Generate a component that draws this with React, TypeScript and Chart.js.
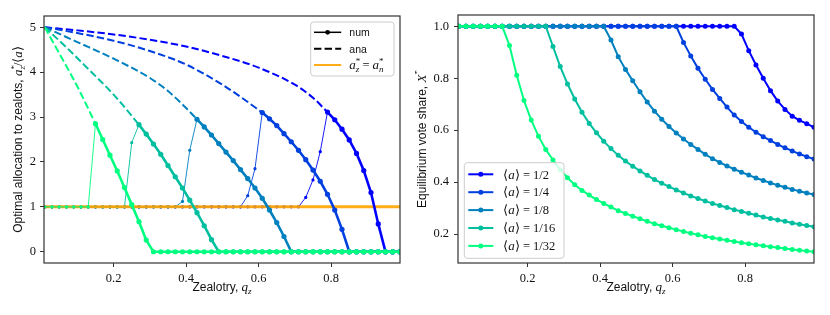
import { useEffect, useRef } from "react";
import { Chart, registerables } from "chart.js";
Chart.register(...registerables);

// ---------- data ----------
const Q = [0.01, 0.03, 0.05, 0.07, 0.09, 0.11, 0.13, 0.15, 0.17, 0.19, 0.21, 0.23, 0.25, 0.27, 0.29, 0.31, 0.33, 0.35, 0.37, 0.39, 0.41, 0.43, 0.45, 0.47, 0.49, 0.51, 0.53, 0.55, 0.57, 0.59, 0.61, 0.63, 0.65, 0.67, 0.69, 0.71, 0.73, 0.75, 0.77, 0.79, 0.81, 0.83, 0.85, 0.87, 0.89, 0.91, 0.93, 0.95, 0.97, 0.99];

const FRACTIONS = ["1/2", "1/4", "1/8", "1/16", "1/32"];
const COLORS = ["#0000ff", "#0040df", "#0080bf", "#00bf9f", "#00ff80"];

// numeric optimal allocation a*_z/<a>
const ALLOC_1_2 = [1, 1, 1, 1, 1, 1, 1, 1, 1, 1, 1, 1, 1, 1, 1, 1, 1, 1, 1, 1, 1, 1, 1, 1, 1, 1, 1, 1, 1, 1, 1, 1, 1, 1, 1, 1, 1.21, 1.6, 2.23, 3.11, 2.94, 2.73, 2.49, 2.19, 1.81, 1.32, 0.62, 0, 0, 0];
const ALLOC_1_4 = [1, 1, 1, 1, 1, 1, 1, 1, 1, 1, 1, 1, 1, 1, 1, 1, 1, 1, 1, 1, 1, 1, 1, 1, 1, 1, 1, 1, 1.25, 1.85, 3.1, 2.96, 2.81, 2.63, 2.45, 2.26, 2.05, 1.82, 1.57, 1.28, 0.93, 0.5, 0, 0, 0, 0, 0, 0, 0, 0];
const ALLOC_1_8 = [1, 1, 1, 1, 1, 1, 1, 1, 1, 1, 1, 1, 1, 1, 1, 1, 1, 1, 1, 1.12, 2.26, 2.95, 2.78, 2.6, 2.41, 2.22, 2.03, 1.83, 1.63, 1.42, 1.19, 0.93, 0.65, 0.34, 0, 0, 0, 0, 0, 0, 0, 0, 0, 0, 0, 0, 0, 0, 0, 0];
const ALLOC_1_16 = [1, 1, 1, 1, 1, 1, 1, 1, 1, 1, 1, 1, 2.43, 2.83, 2.62, 2.4, 2.17, 1.92, 1.67, 1.42, 1.15, 0.87, 0.58, 0.27, 0, 0, 0, 0, 0, 0, 0, 0, 0, 0, 0, 0, 0, 0, 0, 0, 0, 0, 0, 0, 0, 0, 0, 0, 0, 0];
const ALLOC_1_32 = [1, 1, 1, 1, 1, 1, 1, 2.85, 2.5, 2.15, 1.8, 1.43, 1.05, 0.67, 0.26, 0, 0, 0, 0, 0, 0, 0, 0, 0, 0, 0, 0, 0, 0, 0, 0, 0, 0, 0, 0, 0, 0, 0, 0, 0, 0, 0, 0, 0, 0, 0, 0, 0, 0, 0];
const ALLOC_NUM = [ALLOC_1_2, ALLOC_1_4, ALLOC_1_8, ALLOC_1_16, ALLOC_1_32];
// q where the numeric curve joins the analytic branch
const JOIN_Q = [0.79, 0.61, 0.43, 0.27, 0.15];

// analytic branch (dashed)
const ANA_Q_1_2 = [0.01, 0.1, 0.2, 0.3, 0.4, 0.5, 0.6, 0.7, 0.75, 0.79];
const ANA_1_2 = [5.0, 4.93, 4.84, 4.72, 4.57, 4.36, 4.1, 3.72, 3.43, 3.11];
const ANA_Q_1_4 = [0.01, 0.1, 0.2, 0.3, 0.4, 0.5, 0.55, 0.61];
const ANA_1_4 = [5.0, 4.87, 4.7, 4.47, 4.17, 3.72, 3.45, 3.1];
const ANA_Q_1_8 = [0.01, 0.1, 0.2, 0.3, 0.35, 0.4, 0.43];
const ANA_1_8 = [5.0, 4.67, 4.3, 3.87, 3.58, 3.2, 2.95];
const ANA_Q_1_16 = [0.01, 0.07, 0.13, 0.2, 0.27];
const ANA_1_16 = [5.0, 4.55, 4.07, 3.5, 2.83];
const ANA_Q_1_32 = [0.01, 0.05, 0.1, 0.15];
const ANA_1_32 = [5.0, 4.42, 3.68, 2.85];
const ANA_Q = [ANA_Q_1_2, ANA_Q_1_4, ANA_Q_1_8, ANA_Q_1_16, ANA_Q_1_32];
const ANA_V = [ANA_1_2, ANA_1_4, ANA_1_8, ANA_1_16, ANA_1_32];

const EQUAL_LEVEL = 1;

// equilibrium vote share X*
const VOTE_1_2 = [1, 1, 1, 1, 1, 1, 1, 1, 1, 1, 1, 1, 1, 1, 1, 1, 1, 1, 1, 1, 1, 1, 1, 1, 1, 1, 1, 1, 1, 1, 1, 1, 1, 1, 1, 1, 1, 1, 1, 0.97, 0.906, 0.851, 0.8, 0.752, 0.712, 0.68, 0.654, 0.638, 0.625, 0.611];
const VOTE_1_4 = [1, 1, 1, 1, 1, 1, 1, 1, 1, 1, 1, 1, 1, 1, 1, 1, 1, 1, 1, 1, 1, 1, 1, 1, 1, 1, 1, 1, 1, 1, 1, 0.938, 0.886, 0.838, 0.796, 0.757, 0.722, 0.689, 0.658, 0.633, 0.611, 0.592, 0.575, 0.56, 0.545, 0.532, 0.52, 0.508, 0.498, 0.489];
const VOTE_1_8 = [1, 1, 1, 1, 1, 1, 1, 1, 1, 1, 1, 1, 1, 1, 1, 1, 1, 1, 1, 1, 1, 0.947, 0.883, 0.834, 0.79, 0.748, 0.708, 0.673, 0.642, 0.614, 0.589, 0.566, 0.545, 0.526, 0.507, 0.49, 0.476, 0.462, 0.45, 0.438, 0.427, 0.416, 0.406, 0.397, 0.388, 0.38, 0.372, 0.365, 0.358, 0.352];
const VOTE_1_16 = [1, 1, 1, 1, 1, 1, 1, 1, 1, 1, 1, 1, 1, 0.922, 0.845, 0.778, 0.72, 0.669, 0.626, 0.59, 0.557, 0.529, 0.503, 0.481, 0.461, 0.443, 0.426, 0.41, 0.396, 0.383, 0.37, 0.358, 0.347, 0.337, 0.327, 0.318, 0.31, 0.302, 0.294, 0.287, 0.28, 0.273, 0.266, 0.26, 0.254, 0.249, 0.243, 0.238, 0.233, 0.228];
const VOTE_1_32 = [1, 1, 1, 1, 1, 1, 1, 0.926, 0.811, 0.714, 0.639, 0.577, 0.526, 0.485, 0.448, 0.417, 0.39, 0.368, 0.35, 0.333, 0.318, 0.304, 0.29, 0.279, 0.269, 0.259, 0.249, 0.24, 0.232, 0.224, 0.217, 0.21, 0.203, 0.197, 0.191, 0.186, 0.181, 0.176, 0.171, 0.167, 0.163, 0.159, 0.155, 0.151, 0.148, 0.144, 0.141, 0.138, 0.135, 0.132];
const VOTE = [VOTE_1_2, VOTE_1_4, VOTE_1_8, VOTE_1_16, VOTE_1_32];

const X_TICKS = [0.2, 0.4, 0.6, 0.8];
const LEFT_Y_TICKS = [0, 1, 2, 3, 4, 5];
const RIGHT_Y_TICKS = [0.2, 0.4, 0.6, 0.8, 1.0];
const LEFT_LEGEND = ["num", "ana"];

// ---------- styling ----------
const X_MIN = 0.008;
const X_MAX = 0.99;
const TXT = "#111";
const SANS = "12px 'Liberation Sans'";
const LEG_SANS = "10.5px 'Liberation Sans'";
const SERIF = "12.5px 'Liberation Serif'";
const IT = "italic 13px 'Liberation Serif'";
const SUP = "9px 'Liberation Serif'";
const SUBIT = "italic 9px 'Liberation Serif'";
const ORANGE = "rgba(255,165,0,0.9)";

type Run = { t: string; f: string; dy?: number; noAdv?: boolean };

function drawRuns(ctx: CanvasRenderingContext2D, runs: Run[], x: number, y: number, rot: number, align: "center" | "left") {
  ctx.save();
  ctx.translate(x, y);
  ctx.rotate(rot);
  ctx.textBaseline = "alphabetic";
  ctx.textAlign = "left";
  ctx.fillStyle = TXT;
  const widths = runs.map((r) => {
    ctx.font = r.f;
    return ctx.measureText(r.t).width;
  });
  let total = 0;
  runs.forEach((r, i) => {
    if (!r.noAdv) total += widths[i];
  });
  let cx = align === "center" ? -total / 2 : 0;
  runs.forEach((r, i) => {
    ctx.font = r.f;
    ctx.fillText(r.t, cx, r.dy || 0);
    if (!r.noAdv) cx += widths[i];
  });
  ctx.restore();
}

function roundBox(ctx: CanvasRenderingContext2D, x: number, y: number, w: number, h: number) {
  ctx.save();
  ctx.beginPath();
  ctx.roundRect(x, y, w, h, 3);
  ctx.fillStyle = "rgba(255,255,255,0.8)";
  ctx.fill();
  ctx.strokeStyle = "#cccccc";
  ctx.lineWidth = 1;
  ctx.stroke();
  ctx.restore();
}

function dot(ctx: CanvasRenderingContext2D, x: number, y: number, r: number, c: string) {
  ctx.beginPath();
  ctx.arc(x, y, r, 0, Math.PI * 2);
  ctx.fillStyle = c;
  ctx.fill();
}

const framePlugin = {
  id: "frame",
  afterDatasetsDraw(chart: any) {
    const { ctx, chartArea: a } = chart;
    ctx.save();
    ctx.strokeStyle = "#333";
    ctx.lineWidth = 1.2;
    ctx.strokeRect(a.left, a.top, a.right - a.left, a.bottom - a.top);
    ctx.restore();
  },
};

const leftDecor = {
  id: "leftDecor",
  afterDraw(chart: any) {
    const { ctx, chartArea: a } = chart;
    drawRuns(ctx, [{ t: "Zealotry, ", f: SANS }, { t: "q", f: IT }, { t: "z", f: SUBIT, dy: 3 }], (a.left + a.right) / 2, 291, 0, "center");
    drawRuns(
      ctx,
      [
        { t: "Optimal allocation to zealots, ", f: SANS },
        { t: "a", f: IT },
        { t: "*", f: SUP, dy: -5, noAdv: true },
        { t: "z", f: SUBIT, dy: 3 },
        { t: "/⟨", f: SERIF },
        { t: "a", f: IT },
        { t: "⟩", f: SERIF },
      ],
      21.5,
      (a.top + a.bottom) / 2,
      -Math.PI / 2,
      "center"
    );
    const w = 83.3, h = 54;
    const x = a.right - 6 - w, y = a.top + 6;
    roundBox(ctx, x, y, w, h);
    const rows = [y + 10.3, y + 26.7, y + 43];
    const hx0 = x + 3.3, hx1 = x + 30.5, tx = x + 38.6;
    ctx.save();
    ctx.strokeStyle = "#000";
    ctx.lineWidth = 1.5;
    ctx.beginPath();
    ctx.moveTo(hx0, rows[0]);
    ctx.lineTo(hx1, rows[0]);
    ctx.stroke();
    dot(ctx, (hx0 + hx1) / 2, rows[0], 2.4, "#000");
    ctx.lineWidth = 2;
    ctx.setLineDash([7.4, 3.2]);
    ctx.beginPath();
    ctx.moveTo(hx0, rows[1]);
    ctx.lineTo(hx1, rows[1]);
    ctx.stroke();
    ctx.setLineDash([]);
    ctx.strokeStyle = ORANGE;
    ctx.lineWidth = 2;
    ctx.beginPath();
    ctx.moveTo(hx0, rows[2]);
    ctx.lineTo(hx1, rows[2]);
    ctx.stroke();
    ctx.restore();
    drawRuns(ctx, [{ t: LEFT_LEGEND[0], f: LEG_SANS }], tx, rows[0] + 3.8, 0, "left");
    drawRuns(ctx, [{ t: LEFT_LEGEND[1], f: LEG_SANS }], tx, rows[1] + 3.8, 0, "left");
    drawRuns(
      ctx,
      [
        { t: "a", f: IT },
        { t: "*", f: SUP, dy: -5, noAdv: true },
        { t: "z", f: SUBIT, dy: 3 },
        { t: " = ", f: SERIF },
        { t: "a", f: IT },
        { t: "*", f: SUP, dy: -5, noAdv: true },
        { t: "n", f: SUBIT, dy: 3 },
      ],
      tx,
      rows[2] + 3.5,
      0,
      "left"
    );
  },
};

const rightDecor = {
  id: "rightDecor",
  afterDraw(chart: any) {
    const { ctx, chartArea: a } = chart;
    drawRuns(ctx, [{ t: "Zealotry, ", f: SANS }, { t: "q", f: IT }, { t: "z", f: SUBIT, dy: 3 }], (a.left + a.right) / 2, 291, 0, "center");
    drawRuns(
      ctx,
      [
        { t: "Equilibrium vote share, ", f: SANS },
        { t: "X", f: IT },
        { t: "*", f: SUP, dy: -5.5 },
      ],
      10.5,
      (a.top + a.bottom) / 2,
      -Math.PI / 2,
      "center"
    );
    const w = 99.7, h = 95.6;
    const x = a.left + 6.3, y = a.bottom - 4.7 - h;
    roundBox(ctx, x, y, w, h);
    const hx0 = x + 4, hx1 = x + 29, tx = x + 39;
    FRACTIONS.forEach((fr, i) => {
      const ry = y + 11.6 + i * 17.9;
      ctx.save();
      ctx.strokeStyle = COLORS[i];
      ctx.lineWidth = 2;
      ctx.beginPath();
      ctx.moveTo(hx0, ry);
      ctx.lineTo(hx1, ry);
      ctx.stroke();
      dot(ctx, (hx0 + hx1) / 2, ry, 2.5, COLORS[i]);
      ctx.restore();
      drawRuns(ctx, [{ t: "⟨", f: SERIF }, { t: "a", f: IT }, { t: "⟩ = " + fr, f: SERIF }], tx, ry + 4.2, 0, "left");
    });
  },
};

const xy = (qs: number[], vs: number[]) => qs.map((q, i) => ({ x: q, y: vs[i] }));

function xScale() {
  return {
    type: "linear" as const,
    min: X_MIN,
    max: X_MAX,
    afterBuildTicks: (s: any) => {
      s.ticks = X_TICKS.map((v) => ({ value: v }));
    },
    afterFit: (s: any) => {
      s.height = 52;
    },
    ticks: {
      callback: (v: any) => Number(v).toFixed(1),
      font: { family: "'Liberation Serif'", size: 12.5 },
      color: TXT,
      padding: 4,
      maxRotation: 0,
      autoSkip: false,
    },
    grid: { display: true, drawOnChartArea: false, drawTicks: true, tickLength: 4, color: "#333", lineWidth: 1 },
    border: { display: false },
  };
}

function yScale(min: number, max: number, ticks: number[], width: number, pad: number, digits: number) {
  return {
    type: "linear" as const,
    min,
    max,
    afterBuildTicks: (s: any) => {
      s.ticks = ticks.map((v) => ({ value: v }));
    },
    afterFit: (s: any) => {
      s.width = width;
    },
    ticks: {
      callback: (v: any) => Number(v).toFixed(digits),
      font: { family: "'Liberation Serif'", size: 12.5 },
      color: TXT,
      padding: pad,
      autoSkip: false,
    },
    grid: { display: true, drawOnChartArea: false, drawTicks: true, tickLength: 4, color: "#333", lineWidth: 1 },
    border: { display: false },
  };
}

function leftConfig(): any {
  const ds: any[] = [];
  const push = (d: any) => {
    d.order = -ds.length;
    d.clip = 0;
    ds.push(d);
  };
  const thin = (k: number) => {
    const j = Q.indexOf(JOIN_Q[k]);
    push({
      data: xy(Q.slice(0, j + 1), ALLOC_NUM[k].slice(0, j + 1)),
      borderColor: COLORS[k],
      backgroundColor: COLORS[k],
      borderWidth: 0.9,
      pointRadius: 1.6,
      pointBorderWidth: 0,
      pointBackgroundColor: COLORS[k],
    });
  };
  for (let k = 0; k < 4; k++) thin(k);
  push({
    data: [
      { x: X_MIN, y: EQUAL_LEVEL },
      { x: X_MAX, y: EQUAL_LEVEL },
    ],
    borderColor: ORANGE,
    borderWidth: 3,
    pointRadius: 0,
  });
  thin(4);
  for (let k = 0; k < 5; k++) {
    push({
      data: xy(ANA_Q[k], ANA_V[k]),
      borderColor: COLORS[k],
      borderWidth: 2,
      borderDash: [7.4, 3.2],
      pointRadius: 0,
      cubicInterpolationMode: "monotone",
    });
  }
  for (let k = 0; k < 5; k++) {
    const j = Q.indexOf(JOIN_Q[k]);
    push({
      data: xy(Q.slice(j), ALLOC_NUM[k].slice(j)),
      borderColor: COLORS[k],
      backgroundColor: COLORS[k],
      borderWidth: 2.6,
      pointRadius: 2.6,
      pointBorderWidth: 0,
      pointBackgroundColor: COLORS[k],
    });
  }
  return {
    type: "line",
    data: { datasets: ds },
    options: {
      animation: false,
      responsive: false,
      devicePixelRatio: 1,
      layout: { padding: { top: 16, right: 15, left: 0, bottom: 0 } },
      plugins: { legend: { display: false }, tooltip: { enabled: false } },
      scales: { x: xScale(), y: yScale(-0.25, 5.25, LEFT_Y_TICKS, 44, 4, 0) },
    },
    plugins: [framePlugin, leftDecor],
  };
}

function rightConfig(): any {
  const ds: any[] = VOTE.map((v, k) => ({
    data: xy(Q, v),
    borderColor: COLORS[k],
    backgroundColor: COLORS[k],
    borderWidth: 2,
    pointRadius: 2.5,
    pointBorderWidth: 0,
    pointBackgroundColor: COLORS[k],
    order: -k,
    clip: 0,
  }));
  return {
    type: "line",
    data: { datasets: ds },
    options: {
      animation: false,
      responsive: false,
      devicePixelRatio: 1,
      layout: { padding: { top: 15, right: 16, left: 0, bottom: 0 } },
      plugins: { legend: { display: false }, tooltip: { enabled: false } },
      scales: { x: xScale(), y: yScale(0.0886, 1.0434, RIGHT_Y_TICKS, 43, 5, 1) },
    },
    plugins: [framePlugin, rightDecor],
  };
}

export default function App() {
  const leftRef = useRef<HTMLCanvasElement>(null);
  const rightRef = useRef<HTMLCanvasElement>(null);
  useEffect(() => {
    const c1 = new Chart(leftRef.current!, leftConfig());
    const c2 = new Chart(rightRef.current!, rightConfig());
    return () => {
      c1.destroy();
      c2.destroy();
    };
  }, []);
  return (
    <div style={{ position: "absolute", left: 0, top: 0, width: 830, height: 315, display: "flex", background: "#fff" }}>
      <canvas ref={leftRef} width={415} height={315} style={{ width: 415, height: 315, display: "block" }} />
      <canvas ref={rightRef} width={415} height={315} style={{ width: 415, height: 315, display: "block" }} />
    </div>
  );
}
